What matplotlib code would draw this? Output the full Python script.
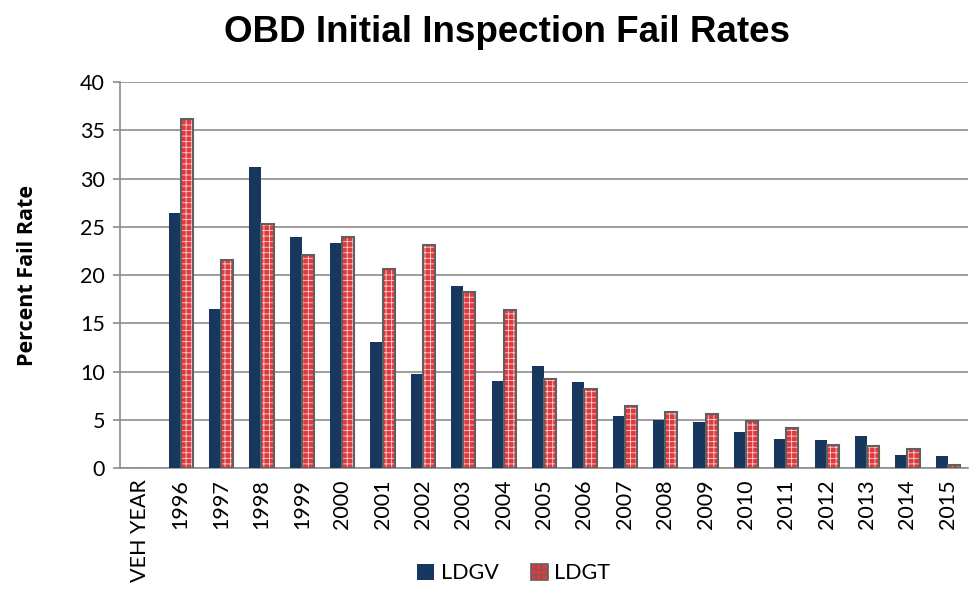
import numpy as np
import matplotlib.pyplot as plt

categories = ["VEH YEAR", "1996", "1997", "1998", "1999", "2000", "2001", "2002",
              "2003", "2004", "2005", "2006", "2007", "2008", "2009", "2010",
              "2011", "2012", "2013", "2014", "2015"]
ldgv = [np.nan, 26.4, 16.5, 31.2, 23.9, 23.3, 13.1, 9.8, 18.9, 9.0, 10.6,
        8.9, 5.4, 5.0, 4.8, 3.7, 3.0, 2.9, 3.3, 1.4, 1.2]
ldgt = [np.nan, 36.2, 21.6, 25.3, 22.1, 24.0, 20.6, 23.1, 18.2, 16.4, 9.2,
        8.2, 6.4, 5.8, 5.6, 4.9, 4.2, 2.4, 2.3, 2.0, 0.3]

navy = "#17375e"
red = "#e0393e"
edge = "#606060"
tick_font = "Lato"

plt.rcParams["hatch.linewidth"] = 0.6

fig = plt.figure(figsize=(9.69, 5.91), dpi=100)
ax = fig.add_axes([0.124, 0.208, 0.875, 0.653])

x = np.arange(len(categories))
w = 0.3
ax.bar(x - w / 2, ldgv, w, color=navy, zorder=3, label="LDGV")
ax.bar(x + w / 2, ldgt, w, facecolor=red, edgecolor="#f7d2d2", hatch="+++",
       linewidth=0, zorder=3)
ax.bar(x + w / 2, ldgt, w, facecolor="none", edgecolor=edge, linewidth=1.5,
       zorder=4)
# legend proxy for the patterned bars
ax.bar([0], [0], w, facecolor=red, edgecolor=edge, hatch="+++",
       linewidth=1.2, label="LDGT")

ax.set_xlim(-0.5, len(categories) - 0.5)
ax.set_ylim(0, 40)
ax.set_yticks(range(0, 41, 5))
ax.grid(axis="y", color="#8c8c8c", linewidth=1.2, zorder=0)
ax.set_xticks(x)
ax.set_xticklabels(categories, rotation=90, fontsize=15.5, family=tick_font)
ax.tick_params(axis="x", length=0, pad=8)
ax.tick_params(axis="y", labelsize=15.5, length=5, color="#8c8c8c", width=1.2,
               pad=6)
for lab in ax.get_yticklabels():
    lab.set_family(tick_font)

for s in ["top", "right"]:
    ax.spines[s].set_visible(False)
for s in ["left", "bottom"]:
    ax.spines[s].set_color("#8c8c8c")
    ax.spines[s].set_linewidth(1.2)

ax.set_ylabel("Percent Fail Rate", fontsize=15.5, fontweight="bold",
              family="Open Sans", labelpad=30)
fig.suptitle("OBD Initial Inspection Fail Rates", fontsize=26.5,
             fontweight="bold", family="Liberation Sans", x=0.523, y=0.975)

fig.legend(loc="lower center", bbox_to_anchor=(0.53, -0.02), ncol=2,
           frameon=False, prop={"family": tick_font, "size": 15.5},
           handlelength=0.8, handleheight=0.8, columnspacing=1.5,
           handletextpad=0.3)

fig.savefig("out.png", dpi=100)
